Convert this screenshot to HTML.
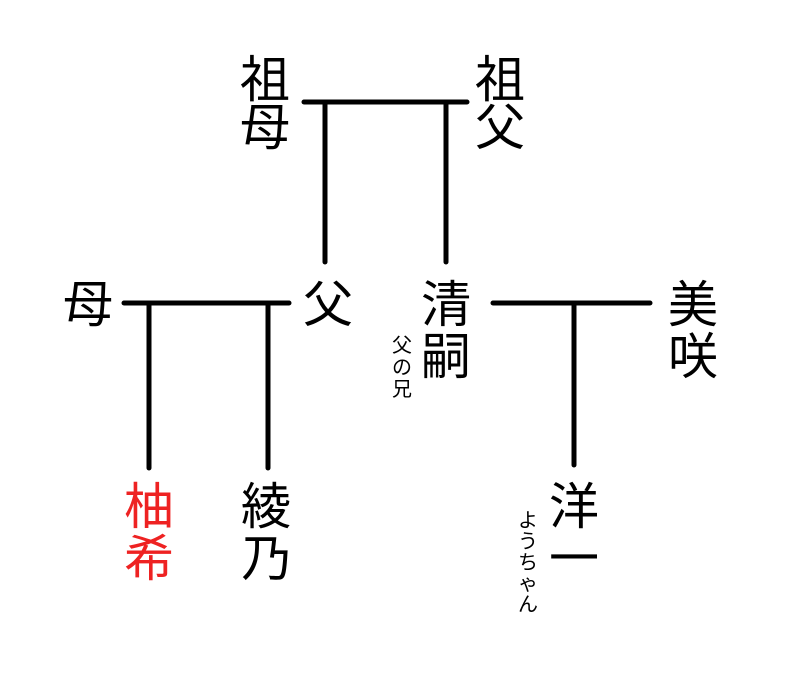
<!DOCTYPE html>
<html><head><meta charset="utf-8"><style>html,body{margin:0;padding:0;background:#fff}svg{display:block}</style></head>
<body>
<svg width="800" height="678" xmlns="http://www.w3.org/2000/svg" font-family="'Liberation Sans','Noto Sans CJK JP',sans-serif" text-anchor="middle" dominant-baseline="central">
<g stroke="#000" stroke-width="5" stroke-linecap="round">
<line x1="304" y1="102" x2="467" y2="102"/>
<line x1="325" y1="102" x2="325" y2="262"/>
<line x1="446" y1="102" x2="446" y2="262"/>
<line x1="124" y1="303" x2="289" y2="303"/>
<line x1="149" y1="303" x2="149" y2="468"/>
<line x1="268" y1="303" x2="268" y2="468"/>
<line x1="493" y1="303" x2="650" y2="303"/>
<line x1="574" y1="303" x2="574" y2="465"/>
</g>
<g font-size="50" fill="#000">
<text x="265" y="80">祖</text><text x="265" y="128">母</text>
<text x="500" y="80">祖</text><text x="500" y="128">父</text>
<text x="88" y="305">母</text>
<text x="328" y="305">父</text>
<text x="446" y="305">清</text><text x="446" y="357">嗣</text>
<text x="693" y="305">美</text><text x="693" y="357">咲</text>
<text x="149" y="507" fill="#ee2222">柚</text><text x="149" y="559" fill="#ee2222">希</text>
<text x="266" y="507">綾</text><text x="266" y="559">乃</text>
<text x="574" y="507">洋</text><text x="574" y="559">一</text>
</g>
<g font-size="20" fill="#000">
<text x="402" y="346">父</text><text x="402" y="368">の</text><text x="402" y="390">兄</text>
<text x="528" y="521">よ</text><text x="528" y="542">う</text><text x="528" y="563">ち</text><text x="528" y="584">ゃ</text><text x="528" y="605">ん</text>
</g>
</svg>
</body></html>
